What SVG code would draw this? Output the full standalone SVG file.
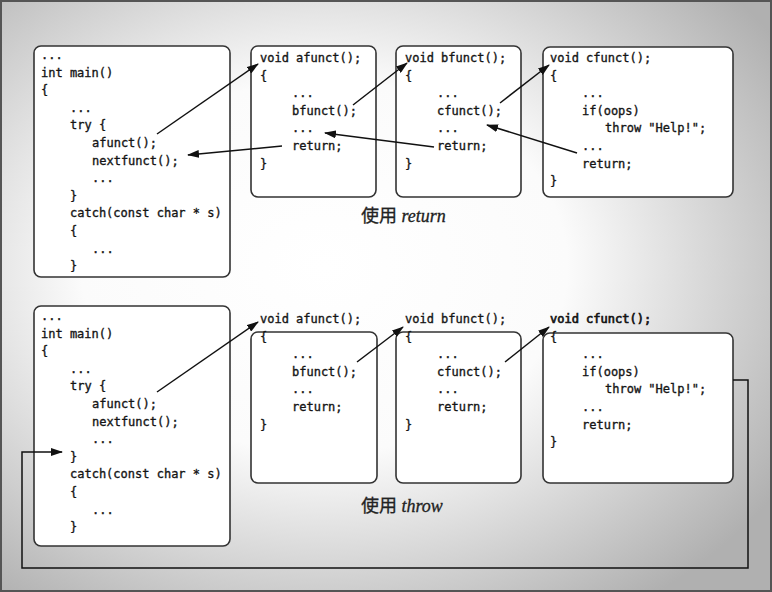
<svg xmlns="http://www.w3.org/2000/svg" width="772" height="592" viewBox="0 0 772 592">
<defs>
<radialGradient id="bg" cx="0.42" cy="0.45" r="0.7">
<stop offset="0" stop-color="#ffffff"/>
<stop offset="0.45" stop-color="#fbfbfb"/>
<stop offset="1" stop-color="#b0b0b0"/>
</radialGradient>
<marker id="ah" viewBox="0 0 12 8" refX="11" refY="4" markerWidth="12" markerHeight="8" markerUnits="userSpaceOnUse" orient="auto">
<path d="M0,0 L12,4 L0,8 Z" fill="#111"/>
</marker>
<style>
.box{fill:#ffffff;stroke:#333;stroke-width:1.6}
.c{font-family:"DejaVu Sans Mono","Liberation Mono",monospace;font-size:12px;fill:#151515;stroke:#151515;stroke-width:0.35}
.b{stroke-width:0.7}
.lab{font-family:"Liberation Serif","Noto Sans CJK SC",serif;font-size:18px;fill:#222;stroke:#222;stroke-width:0.3}
.it{font-style:italic}
.ar{fill:none;stroke:#111;stroke-width:1.5;marker-end:url(#ah)}
</style>
</defs>
<rect x="0" y="0" width="772" height="592" fill="url(#bg)"/>
<rect x="1" y="1" width="770" height="590" fill="none" stroke="#555" stroke-width="2"/>

<g id="top-main">
<rect class="box" x="34" y="46" width="196" height="231" rx="7"/>
<text class="c" x="41" y="59">...</text>
<text class="c" x="41" y="76.6">int main()</text>
<text class="c" x="41" y="94.2">{</text>
<text class="c" x="70" y="111.8">...</text>
<text class="c" x="70" y="129.4">try {</text>
<text class="c" x="92" y="147">afunct();</text>
<text class="c" x="92" y="164.6">nextfunct();</text>
<text class="c" x="92" y="182.2">...</text>
<text class="c" x="70" y="199.8">}</text>
<text class="c" x="70" y="217.4">catch(const char * s)</text>
<text class="c" x="70" y="235">{</text>
<text class="c" x="92" y="252.6">...</text>
<text class="c" x="70" y="270.2">}</text>
</g>

<g id="top-afunct">
<rect class="box" x="251" y="46" width="125" height="151" rx="7"/>
<text class="c" x="260" y="62">void afunct();</text>
<text class="c" x="260" y="79.6">{</text>
<text class="c" x="292" y="97.2">...</text>
<text class="c" x="292" y="114.8">bfunct();</text>
<text class="c" x="292" y="132.4">...</text>
<text class="c" x="292" y="150">return;</text>
<text class="c" x="260" y="167.6">}</text>
</g>

<g id="top-bfunct">
<rect class="box" x="396" y="46" width="125" height="151" rx="7"/>
<text class="c" x="405" y="62">void bfunct();</text>
<text class="c" x="405" y="79.6">{</text>
<text class="c" x="437" y="97.2">...</text>
<text class="c" x="437" y="114.8">cfunct();</text>
<text class="c" x="437" y="132.4">...</text>
<text class="c" x="437" y="150">return;</text>
<text class="c" x="405" y="167.6">}</text>
</g>

<g id="top-cfunct">
<rect class="box" x="543" y="47" width="190" height="150" rx="7"/>
<text class="c" x="550" y="62">void cfunct();</text>
<text class="c" x="550" y="79.6">{</text>
<text class="c" x="582" y="97.2">...</text>
<text class="c" x="582" y="114.8">if(oops)</text>
<text class="c" x="605" y="132.4">throw "Help!";</text>
<text class="c" x="582" y="150">...</text>
<text class="c" x="582" y="167.6">return;</text>
<text class="c" x="550" y="185.2">}</text>
</g>

<text class="lab" x="361" y="222">使用 <tspan class="it">return</tspan></text>

<g id="bottom-main">
<rect class="box" x="34" y="306" width="196" height="240" rx="7"/>
<text class="c" x="41" y="320">...</text>
<text class="c" x="41" y="337.6">int main()</text>
<text class="c" x="41" y="355.2">{</text>
<text class="c" x="70" y="372.8">...</text>
<text class="c" x="70" y="390.4">try {</text>
<text class="c" x="92" y="408">afunct();</text>
<text class="c" x="92" y="425.6">nextfunct();</text>
<text class="c" x="92" y="443.2">...</text>
<text class="c" x="70" y="460.8">}</text>
<text class="c" x="70" y="478.4">catch(const char * s)</text>
<text class="c" x="70" y="496">{</text>
<text class="c" x="92" y="513.6">...</text>
<text class="c" x="70" y="531.2">}</text>
</g>

<g id="bottom-afunct">
<rect class="box" x="251" y="332" width="126" height="151" rx="7"/>
<text class="c" x="260" y="323">void afunct();</text>
<text class="c" x="260" y="340.6">{</text>
<text class="c" x="292" y="358.2">...</text>
<text class="c" x="292" y="375.8">bfunct();</text>
<text class="c" x="292" y="393.4">...</text>
<text class="c" x="292" y="411">return;</text>
<text class="c" x="260" y="428.6">}</text>
</g>

<g id="bottom-bfunct">
<rect class="box" x="396" y="332" width="125" height="151" rx="7"/>
<text class="c" x="405" y="323">void bfunct();</text>
<text class="c" x="405" y="340.6">{</text>
<text class="c" x="437" y="358.2">...</text>
<text class="c" x="437" y="375.8">cfunct();</text>
<text class="c" x="437" y="393.4">...</text>
<text class="c" x="437" y="411">return;</text>
<text class="c" x="405" y="428.6">}</text>
</g>

<g id="bottom-cfunct">
<rect class="box" x="543" y="333" width="190" height="150" rx="7"/>
<text class="c b" x="550" y="323">void cfunct();</text>
<text class="c" x="550" y="340.6">{</text>
<text class="c" x="582" y="358.2">...</text>
<text class="c" x="582" y="375.8">if(oops)</text>
<text class="c" x="605" y="393.4">throw "Help!";</text>
<text class="c" x="582" y="411">...</text>
<text class="c" x="582" y="428.6">return;</text>
<text class="c" x="550" y="446.2">}</text>
</g>

<text class="lab" x="361" y="512">使用 <tspan class="it">throw</tspan></text>

<g id="connectors">
<line class="ar" x1="157" y1="134" x2="258" y2="64"/>
<line class="ar" x1="282" y1="146" x2="188" y2="155"/>
<line class="ar" x1="353" y1="105" x2="407" y2="63"/>
<line class="ar" x1="434" y1="147" x2="325" y2="133"/>
<line class="ar" x1="500" y1="103" x2="549" y2="65"/>
<line class="ar" x1="577" y1="153" x2="487" y2="125"/>
<line class="ar" x1="157" y1="392" x2="258" y2="322"/>
<line class="ar" x1="357" y1="362" x2="403" y2="327"/>
<line class="ar" x1="505" y1="362" x2="549" y2="327"/>
<path class="ar" d="M733,380 H748 V568 H22 V452 H62"/>
</g>
</svg>
